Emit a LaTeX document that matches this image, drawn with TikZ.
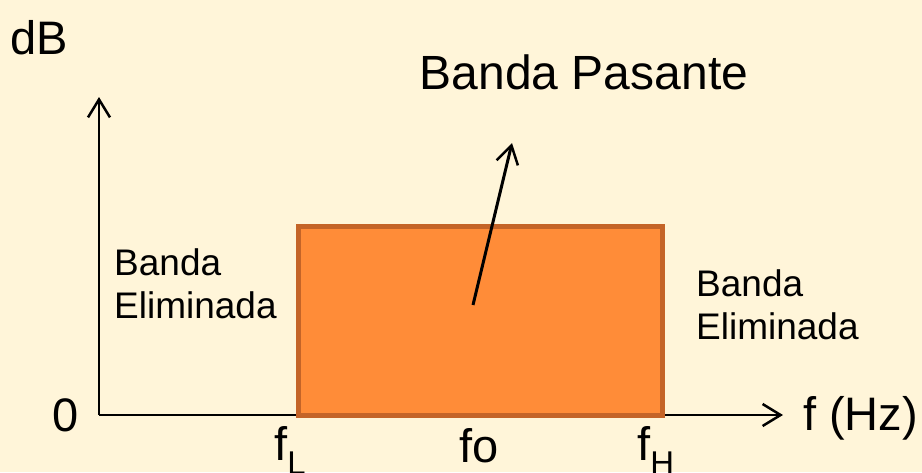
\documentclass[tikz,border=0pt]{standalone}
\usepackage{fontspec}
\setmainfont{Liberation Sans}
\usetikzlibrary{arrows.meta,positioning}
\definecolor{paper}{RGB}{255,245,217}
\definecolor{passfill}{RGB}{255,140,56}
\definecolor{passedge}{RGB}{196,100,40}

\begin{document}
\begin{tikzpicture}[x=1pt,y=-1pt,
    big/.style={font=\fontsize{47}{50}\selectfont,inner sep=0pt},
    side/.style={font=\fontsize{37}{43}\selectfont,align=left,inner sep=0pt},
    axis/.style={-{Straight Barb[length=18pt,width=22pt,line width=2.5pt]},line width=2.5pt}]
    \fill[paper] (0,0) rectangle (922,472);
    \useasboundingbox (0,0) rectangle (922,472);
    % axes
    \coordinate (O) at (99,415);
    \coordinate (ytop) at (99,97);
    \coordinate (xend) at (783,415);
    \draw[axis] (O) -- (ytop);
    \draw[axis] (O) -- (xend);
    % pass band
    \node[draw=passedge,fill=passfill,line width=5pt,minimum width=364pt,minimum height=189pt,inner sep=0pt] (pass) at (480,320.5) {};
    \node[big,font=\fontsize{48}{50}\selectfont] (title) at (584,72) {Banda Pasante};
    \coordinate (pin) at (473,305);
    \coordinate (tip) at (512,143);
    \draw[axis,line width=3pt] (pin) -- (tip);
    % labels
    \node[big] (dB) at (39,38) {dB};
    \node[big] (zero) at (66,415) {0};
    \node[big,anchor=base west] (hz) at (803,430) {f (Hz)};
    \node[big,anchor=base west] (fL) at (274,460) {f\textsubscript{L}};
    \node[big,anchor=base] (fo) at (479,462) {fo};
    \node[big,anchor=base west] (fH) at (637,460) {f\textsubscript{H}};
    \node[side,anchor=west] (stopL) at (114,284) {Banda\\Eliminada};
    \node[side,anchor=west] (stopR) at (696,305) {Banda\\Eliminada};
\end{tikzpicture}
\end{document}
